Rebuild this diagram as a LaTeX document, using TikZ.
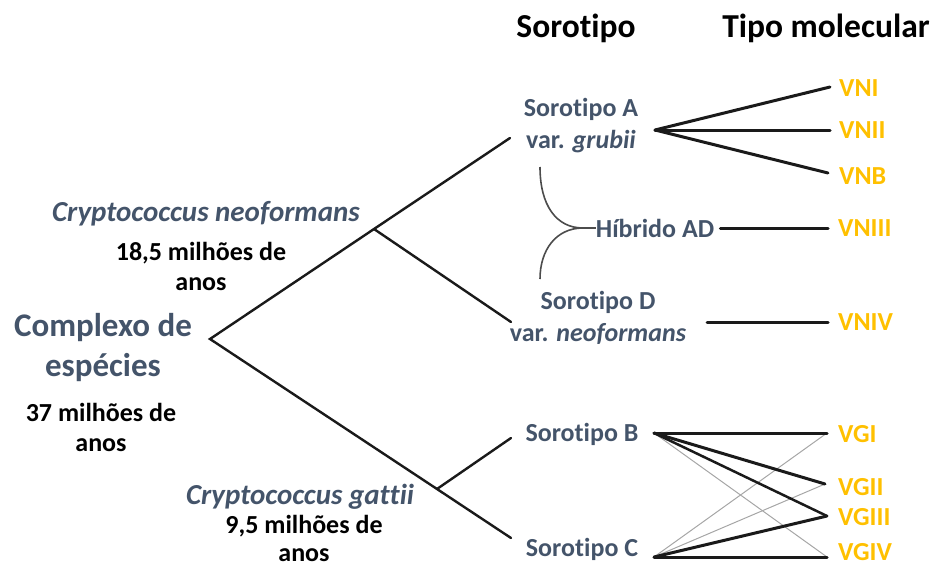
\documentclass[tikz,border=0pt]{standalone}
\usepackage{fontspec}
\setmainfont{Carlito}[Ligatures={NoCommon,NoContextual}]
\definecolor{slate}{HTML}{44546A}
\definecolor{gold}{HTML}{FFC000}
\definecolor{lnk}{HTML}{1A1A1A}
\tikzset{
  lab/.style={font=\fontsize{26}{32}\selectfont\bfseries, text=slate, inner sep=0pt, align=center},
  spec/.style={font=\fontsize{29}{34}\selectfont\bfseries\itshape, text=slate, inner sep=0pt},
  hdr/.style={font=\fontsize{33.5}{40}\selectfont\bfseries, text=black, inner sep=0pt},
  age/.style={font=\fontsize{26}{31}\selectfont\bfseries, text=black, inner sep=0pt, align=center},
  mol/.style={font=\fontsize{26}{32}\selectfont\bfseries, text=gold, inner sep=0pt, anchor=west},
  tree/.style={draw=lnk, line width=2.4pt, line cap=round},
  thick link/.style={draw=lnk, line width=3pt, line cap=round},
  faint link/.style={draw=black!35, line width=1pt},
  hyb/.style={draw=black!70, line width=1.6pt},
}
\begin{document}
\begin{tikzpicture}[x=1pt,y=-1pt]
\useasboundingbox (0,0) rectangle (933,567);
% headers
\node[hdr] (hS) at (576,28) {Sorotipo};
\node[hdr] (hT) at (826,28) {Tipo molecular};
% left labels
\node[spec] (cn) at (206,214) {Cryptococcus neoformans};
\node[age] (a185) at (201,266) {18,5 milhões de\\[-1pt]anos};
\node[lab, font=\fontsize{33}{40}\selectfont\bfseries] (cx) at (103,348) {Complexo de\\espécies};
\node[age] (a37) at (101,427) {37 milhões de\\[-1pt]anos};
\node[spec] (cg) at (300,497) {Cryptococcus gattii};
\node[age] (a95) at (304,538) {9,5 milhões de\\[-3pt]anos};
% serotypes
\node[lab] (sA) at (581,126) {Sorotipo A\\var. \textit{grubii}};
\node[lab] (hAD) at (655,228) {Híbrido AD};
\node[lab] (sD) at (598,318) {Sorotipo D\\var. \textit{neoformans}};
\node[lab] (sB) at (582,434) {Sorotipo B};
\node[lab] (sC) at (582,549) {Sorotipo C};
% molecular types
\node[mol] (VNI) at (839,88) {VNI};
\node[mol] (VNII) at (839,130) {VNII};
\node[mol] (VNB) at (839,176) {VNB};
\node[mol] (VNIII) at (838,228) {VNIII};
\node[mol] (VNIV) at (838,322) {VNIV};
\node[mol] (VGI) at (838,434) {VGI};
\node[mol] (VGII) at (838,487) {VGII};
\node[mol] (VGIII) at (838,517) {VGIII};
\node[mol] (VGIV) at (838,552) {VGIV};
% tree coordinates
\coordinate (root) at (210,339);
\coordinate (nN) at (374,229);
\coordinate (nG) at (437,489);
\coordinate (tA) at (510,138);
\coordinate (tD) at (511,322);
\coordinate (tB) at (511,438);
\coordinate (tC) at (511,538);
\draw[tree] (tA) -- (nN) -- (root) -- (nG) -- (tC);
\draw[tree] (nN) -- (tD);
\draw[tree] (nG) -- (tB);
% hybrid
\coordinate (hyTop) at (540,167);
\coordinate (hyBot) at (540,279);
\coordinate (hyJ) at (583,228);
\draw[hyb] (hyTop) .. controls (540,205) and (556,228) .. (hyJ);
\draw[hyb] (hyBot) .. controls (540,250) and (556,228) .. (hyJ);
\draw[hyb] (hyJ) -- (hAD.west);
% right links: A
\coordinate (hubA) at (655,130);
\coordinate (eVNI) at (830,87);
\coordinate (eVNII) at (830,130);
\coordinate (eVNB) at (828,173);
\draw[thick link] (hubA) -- (eVNI);
\draw[thick link] (hubA) -- (eVNII);
\draw[thick link] (hubA) -- (eVNB);
\coordinate (eVNIII) at (828,228);
\draw[thick link] ([xshift=6pt]hAD.east) -- (eVNIII);
\coordinate (sVNIV) at (707,322);
\coordinate (eVNIV) at (828,322);
\draw[thick link] (sVNIV) -- (eVNIV);
% B and C
\coordinate (hubB) at (654,433);
\coordinate (hubC) at (654,557);
\coordinate (eVGI) at (827,433);
\coordinate (eVGII) at (825,484);
\coordinate (eVGIII) at (827,516);
\coordinate (eVGIV) at (827,557);
\draw[faint link] (hubB) -- (eVGIV);
\draw[faint link] (hubC) -- (eVGI);
\draw[faint link] (hubC) -- (eVGII);
\draw[thick link] (hubB) -- (eVGI);
\draw[thick link] (hubB) -- (eVGII);
\draw[thick link, line width=2.5pt] (hubB) -- (eVGIII);
\draw[thick link] (hubC) -- (eVGIII);
\draw[thick link] (hubC) -- (eVGIV);
\end{tikzpicture}
\end{document}
